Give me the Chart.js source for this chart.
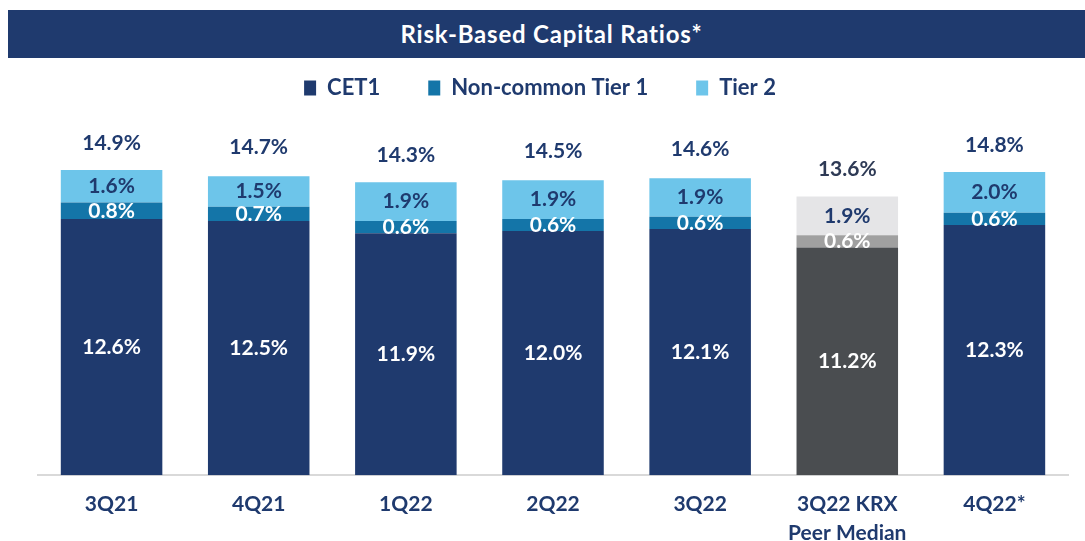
<!DOCTYPE html>
<html>
<head>
<meta charset="utf-8">
<script src="https://cdn.jsdelivr.net/npm/chart.js@4/dist/chart.umd.min.js"></script>
<style>
  html, body { margin: 0; padding: 0; background: #ffffff; overflow: hidden; width: 1085px; height: 541px; }
  #banner {
    position: absolute; left: 8px; top: 10px; width: 1077px; height: 48px;
    background: #1f3a6e; color: #ffffff; font-family: Lato, 'Open Sans', sans-serif;
    font-weight: 700; font-size: 24px; letter-spacing: 0.8px; line-height: 48px; text-align: center;
    box-sizing: border-box; padding-left: 10px;
  }
  #wrap { position: absolute; left: 0; top: 0; }
</style>
</head>
<body>
<div id="banner">Risk-Based Capital Ratios*</div>
<div id="wrap"><canvas id="c" width="1085" height="554"></canvas></div>
<script>
const categories = ['3Q21', '4Q21', '1Q22', '2Q22', '3Q22', ['3Q22 KRX', 'Peer Median'], '4Q22*'];
const cet1 = [12.6, 12.5, 11.9, 12.0, 12.1, 11.2, 12.3];
const nonCommonTier1 = [0.8, 0.7, 0.6, 0.6, 0.6, 0.6, 0.6];
const tier2 = [1.6, 1.5, 1.9, 1.9, 1.9, 1.9, 2.0];
const totals = [14.9, 14.7, 14.3, 14.5, 14.6, 13.6, 14.8];
const peerIndex = 5;

const NAVY = '#1f3a6e';
const FONT = 'Lato, "Open Sans", sans-serif';

function colors(main, peer) {
  return categories.map((_, i) => i === peerIndex ? peer : main);
}

const labelPlugin = {
  id: 'valueLabels',
  afterDatasetsDraw(chart) {
    const ctx = chart.ctx;
    ctx.save();
    ctx.textAlign = 'center';
    ctx.textBaseline = 'middle';
    ctx.font = 'bold 21px ' + FONT;
    const segColors = ['#ffffff', '#ffffff', NAVY];
    chart.data.datasets.forEach((ds, di) => {
      const meta = chart.getDatasetMeta(di);
      meta.data.forEach((bar, i) => {
        const p = bar.getProps(['x', 'y', 'base'], true);
        ctx.fillStyle = segColors[di];
        ctx.fillText(ds.data[i].toFixed(1) + '%', p.x, (p.y + p.base) / 2);
      });
    });
    const yScale = chart.scales.y;
    const topMeta = chart.getDatasetMeta(0);
    totals.forEach((t, i) => {
      const x = topMeta.data[i].x;
      ctx.fillStyle = i === peerIndex ? '#2e3a55' : NAVY;
      ctx.fillText(t.toFixed(1) + '%', x, yScale.getPixelForValue(t) - 29);
    });
    ctx.restore();
  }
};

new Chart(document.getElementById('c'), {
  type: 'bar',
  data: {
    labels: categories,
    datasets: [
      { label: 'CET1', data: cet1, backgroundColor: colors(NAVY, '#4a4d50') },
      { label: 'Non-common Tier 1', data: nonCommonTier1, backgroundColor: colors('#1475a8', '#a0a0a0') },
      { label: 'Tier 2', data: tier2, backgroundColor: colors('#6dc5ea', '#e5e5e7') }
    ]
  },
  options: {
    responsive: false,
    animation: false,
    events: [],
    datasets: { bar: { categoryPercentage: 1, barPercentage: 0.69, borderWidth: 0 } },
    layout: { padding: { top: 29, left: 12, right: 17, bottom: 0 } },
    plugins: {
      title: { display: false },
      tooltip: { enabled: false },
      legend: {
        display: true,
        position: 'top',
        labels: {
          boxWidth: 12,
          boxHeight: 15,
          padding: 48,
          color: NAVY,
          font: { family: FONT, size: 22, weight: 'bold' }
        }
      }
    },
    scales: {
      x: {
        stacked: true,
        grid: { display: false },
        border: { display: true, color: '#d9d9d9', width: 2 },
        ticks: {
          color: NAVY,
          padding: 7,
          font: { family: FONT, size: 21, weight: 'bold', lineHeight: 1.35 }
        }
      },
      y: {
        stacked: true,
        display: true,
        min: 0,
        max: 18,
        grid: { display: false },
        border: { display: false },
        ticks: { display: false },
        afterFit(scale) { scale.width = 26; }
      }
    }
  },
  plugins: [labelPlugin]
});
</script>
</body>
</html>
